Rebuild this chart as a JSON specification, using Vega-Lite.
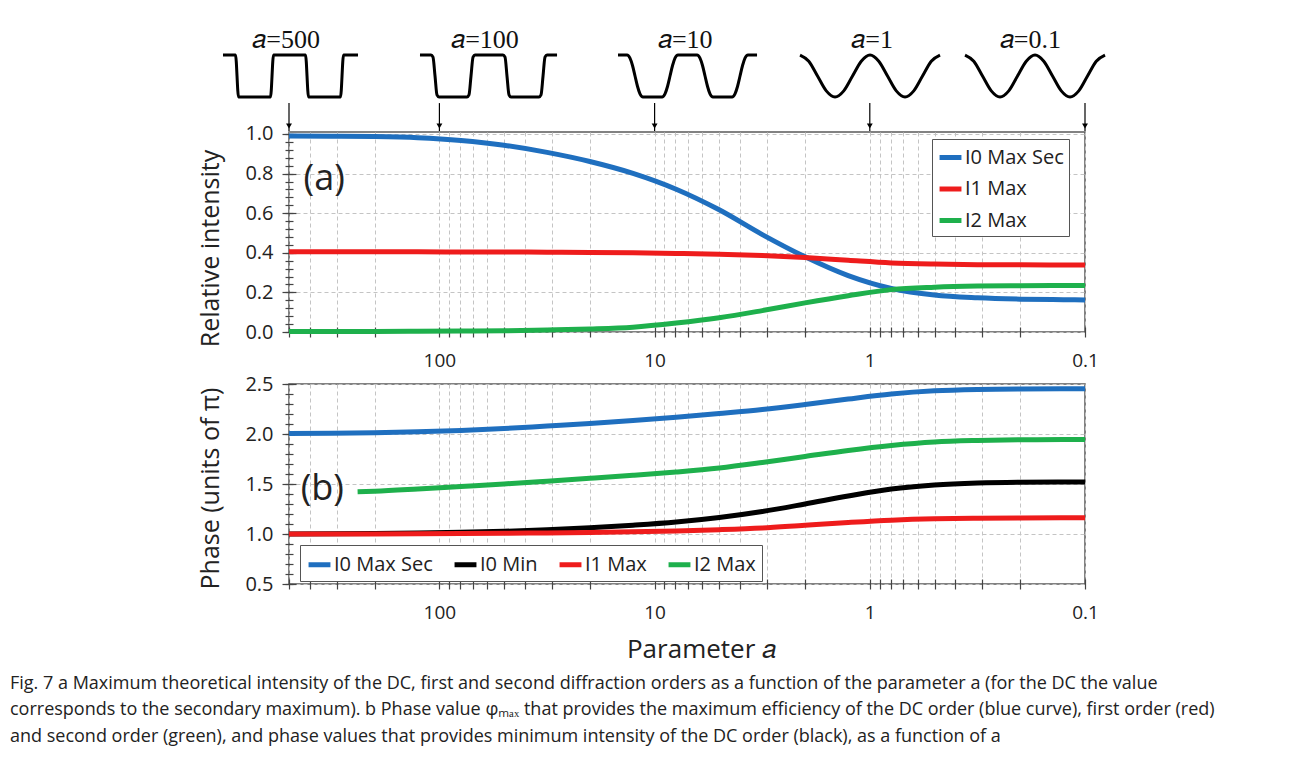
{
  "$schema": "https://vega.github.io/schema/vega-lite/v6.json",
  "background": "white",
  "padding": {"left": 10, "top": 0, "right": 0, "bottom": 12},
  "autosize": {"type": "pad"},
  "spacing": 52,
  "bounds": "flush",
  "title": {
    "text": [
      "Fig. 7 a Maximum theoretical intensity of the DC, first and second diffraction orders as a function of the parameter a (for the DC the value",
      "corresponds to the secondary maximum). b Phase value φₘₐₓ that provides the maximum efficiency of the DC order (blue curve), first order (red)",
      "and second order (green), and phase values that provides minimum intensity of the DC order (black), as a function of a"
    ],
    "orient": "bottom", "anchor": "start", "frame": "group", "align": "left", "dx": -279, "offset": 12,
    "font": "Open Sans", "fontSize": 18, "fontWeight": "normal", "lineHeight": 26.5, "color": "#222222"
  },
  "config": {
    "font": "Open Sans",
    "view": {"stroke": "#5a5a5a", "strokeWidth": 1.5},
    "axis": {
      "labelFont": "Open Sans", "labelFontSize": 19, "labelColor": "#222222",
      "titleFont": "Open Sans", "titleFontSize": 25, "titleFontWeight": "normal", "titleColor": "#222222",
      "tickColor": "#444444", "tickWidth": 1.2, "domain": false,
      "gridColor": "#c4c4c4", "gridDash": [4, 3], "gridWidth": 1
    }
  },
  "resolve": {"scale": {"x": "independent", "y": "independent", "color": "independent"}, "legend": {"color": "independent"}},
  "datasets": {
    "intensity": [
      {"a": 500, "s": "I0 Max Sec", "v": 0.99}, {"a": 316, "s": "I0 Max Sec", "v": 0.989}, {"a": 200, "s": "I0 Max Sec", "v": 0.987},
      {"a": 126, "s": "I0 Max Sec", "v": 0.981}, {"a": 79.4, "s": "I0 Max Sec", "v": 0.967}, {"a": 50.1, "s": "I0 Max Sec", "v": 0.943},
      {"a": 31.6, "s": "I0 Max Sec", "v": 0.907}, {"a": 20, "s": "I0 Max Sec", "v": 0.861}, {"a": 12.6, "s": "I0 Max Sec", "v": 0.801},
      {"a": 7.94, "s": "I0 Max Sec", "v": 0.721}, {"a": 5.01, "s": "I0 Max Sec", "v": 0.617}, {"a": 3.16, "s": "I0 Max Sec", "v": 0.492},
      {"a": 2, "s": "I0 Max Sec", "v": 0.38}, {"a": 1.26, "s": "I0 Max Sec", "v": 0.285}, {"a": 0.794, "s": "I0 Max Sec", "v": 0.22},
      {"a": 0.501, "s": "I0 Max Sec", "v": 0.187}, {"a": 0.316, "s": "I0 Max Sec", "v": 0.173}, {"a": 0.2, "s": "I0 Max Sec", "v": 0.166},
      {"a": 0.126, "s": "I0 Max Sec", "v": 0.163}, {"a": 0.1, "s": "I0 Max Sec", "v": 0.162},
      {"a": 500, "s": "I1 Max", "v": 0.405}, {"a": 316, "s": "I1 Max", "v": 0.405}, {"a": 200, "s": "I1 Max", "v": 0.405},
      {"a": 126, "s": "I1 Max", "v": 0.405}, {"a": 79.4, "s": "I1 Max", "v": 0.404}, {"a": 50.1, "s": "I1 Max", "v": 0.404},
      {"a": 31.6, "s": "I1 Max", "v": 0.403}, {"a": 20, "s": "I1 Max", "v": 0.402}, {"a": 12.6, "s": "I1 Max", "v": 0.4},
      {"a": 7.94, "s": "I1 Max", "v": 0.397}, {"a": 5.01, "s": "I1 Max", "v": 0.393}, {"a": 3.16, "s": "I1 Max", "v": 0.386},
      {"a": 2, "s": "I1 Max", "v": 0.376}, {"a": 1.26, "s": "I1 Max", "v": 0.362}, {"a": 0.794, "s": "I1 Max", "v": 0.349},
      {"a": 0.501, "s": "I1 Max", "v": 0.343}, {"a": 0.316, "s": "I1 Max", "v": 0.34}, {"a": 0.2, "s": "I1 Max", "v": 0.339},
      {"a": 0.126, "s": "I1 Max", "v": 0.338}, {"a": 0.1, "s": "I1 Max", "v": 0.338},
      {"a": 500, "s": "I2 Max", "v": 0.003}, {"a": 316, "s": "I2 Max", "v": 0.003}, {"a": 200, "s": "I2 Max", "v": 0.003},
      {"a": 126, "s": "I2 Max", "v": 0.004}, {"a": 79.4, "s": "I2 Max", "v": 0.005}, {"a": 50.1, "s": "I2 Max", "v": 0.006},
      {"a": 31.6, "s": "I2 Max", "v": 0.01}, {"a": 20, "s": "I2 Max", "v": 0.015}, {"a": 12.6, "s": "I2 Max", "v": 0.024},
      {"a": 7.94, "s": "I2 Max", "v": 0.045}, {"a": 5.01, "s": "I2 Max", "v": 0.072}, {"a": 3.16, "s": "I2 Max", "v": 0.108},
      {"a": 2, "s": "I2 Max", "v": 0.147}, {"a": 1.26, "s": "I2 Max", "v": 0.183}, {"a": 0.794, "s": "I2 Max", "v": 0.214},
      {"a": 0.501, "s": "I2 Max", "v": 0.226}, {"a": 0.316, "s": "I2 Max", "v": 0.232}, {"a": 0.2, "s": "I2 Max", "v": 0.234},
      {"a": 0.126, "s": "I2 Max", "v": 0.235}, {"a": 0.1, "s": "I2 Max", "v": 0.235}
    ],
    "phase": [
      {"a": 500, "s": "I0 Max Sec", "v": 2.005}, {"a": 316, "s": "I0 Max Sec", "v": 2.008}, {"a": 200, "s": "I0 Max Sec", "v": 2.013},
      {"a": 126, "s": "I0 Max Sec", "v": 2.022}, {"a": 79.4, "s": "I0 Max Sec", "v": 2.036}, {"a": 50.1, "s": "I0 Max Sec", "v": 2.055},
      {"a": 31.6, "s": "I0 Max Sec", "v": 2.08}, {"a": 20, "s": "I0 Max Sec", "v": 2.105}, {"a": 12.6, "s": "I0 Max Sec", "v": 2.135},
      {"a": 7.94, "s": "I0 Max Sec", "v": 2.168}, {"a": 5.01, "s": "I0 Max Sec", "v": 2.205}, {"a": 3.16, "s": "I0 Max Sec", "v": 2.245},
      {"a": 2, "s": "I0 Max Sec", "v": 2.295}, {"a": 1.26, "s": "I0 Max Sec", "v": 2.35}, {"a": 0.794, "s": "I0 Max Sec", "v": 2.4},
      {"a": 0.501, "s": "I0 Max Sec", "v": 2.432}, {"a": 0.316, "s": "I0 Max Sec", "v": 2.446}, {"a": 0.2, "s": "I0 Max Sec", "v": 2.451},
      {"a": 0.126, "s": "I0 Max Sec", "v": 2.452}, {"a": 0.1, "s": "I0 Max Sec", "v": 2.452},
      {"a": 500, "s": "I0 Min", "v": 1.0}, {"a": 316, "s": "I0 Min", "v": 1.002}, {"a": 200, "s": "I0 Min", "v": 1.005},
      {"a": 126, "s": "I0 Min", "v": 1.01}, {"a": 79.4, "s": "I0 Min", "v": 1.017}, {"a": 50.1, "s": "I0 Min", "v": 1.027},
      {"a": 31.6, "s": "I0 Min", "v": 1.042}, {"a": 20, "s": "I0 Min", "v": 1.062}, {"a": 12.6, "s": "I0 Min", "v": 1.088},
      {"a": 7.94, "s": "I0 Min", "v": 1.12}, {"a": 5.01, "s": "I0 Min", "v": 1.165}, {"a": 3.16, "s": "I0 Min", "v": 1.225},
      {"a": 2, "s": "I0 Min", "v": 1.3}, {"a": 1.26, "s": "I0 Min", "v": 1.38}, {"a": 0.794, "s": "I0 Min", "v": 1.45},
      {"a": 0.501, "s": "I0 Min", "v": 1.49}, {"a": 0.316, "s": "I0 Min", "v": 1.51}, {"a": 0.2, "s": "I0 Min", "v": 1.518},
      {"a": 0.126, "s": "I0 Min", "v": 1.52}, {"a": 0.1, "s": "I0 Min", "v": 1.52},
      {"a": 500, "s": "I1 Max", "v": 1.0}, {"a": 316, "s": "I1 Max", "v": 1.0}, {"a": 200, "s": "I1 Max", "v": 1.001},
      {"a": 126, "s": "I1 Max", "v": 1.002}, {"a": 79.4, "s": "I1 Max", "v": 1.004}, {"a": 50.1, "s": "I1 Max", "v": 1.007},
      {"a": 31.6, "s": "I1 Max", "v": 1.011}, {"a": 20, "s": "I1 Max", "v": 1.016}, {"a": 12.6, "s": "I1 Max", "v": 1.023},
      {"a": 7.94, "s": "I1 Max", "v": 1.031}, {"a": 5.01, "s": "I1 Max", "v": 1.043}, {"a": 3.16, "s": "I1 Max", "v": 1.06},
      {"a": 2, "s": "I1 Max", "v": 1.088}, {"a": 1.26, "s": "I1 Max", "v": 1.115}, {"a": 0.794, "s": "I1 Max", "v": 1.138},
      {"a": 0.501, "s": "I1 Max", "v": 1.152}, {"a": 0.316, "s": "I1 Max", "v": 1.158}, {"a": 0.2, "s": "I1 Max", "v": 1.161},
      {"a": 0.126, "s": "I1 Max", "v": 1.162}, {"a": 0.1, "s": "I1 Max", "v": 1.162},
      {"a": 240, "s": "I2 Max", "v": 1.423}, {"a": 200, "s": "I2 Max", "v": 1.428}, {"a": 126, "s": "I2 Max", "v": 1.45},
      {"a": 79.4, "s": "I2 Max", "v": 1.475}, {"a": 50.1, "s": "I2 Max", "v": 1.5}, {"a": 31.6, "s": "I2 Max", "v": 1.528},
      {"a": 20, "s": "I2 Max", "v": 1.557}, {"a": 12.6, "s": "I2 Max", "v": 1.587}, {"a": 7.94, "s": "I2 Max", "v": 1.62},
      {"a": 5.01, "s": "I2 Max", "v": 1.66}, {"a": 3.16, "s": "I2 Max", "v": 1.715}, {"a": 2, "s": "I2 Max", "v": 1.775},
      {"a": 1.26, "s": "I2 Max", "v": 1.835}, {"a": 0.794, "s": "I2 Max", "v": 1.885}, {"a": 0.501, "s": "I2 Max", "v": 1.92},
      {"a": 0.316, "s": "I2 Max", "v": 1.935}, {"a": 0.2, "s": "I2 Max", "v": 1.942}, {"a": 0.126, "s": "I2 Max", "v": 1.945},
      {"a": 0.1, "s": "I2 Max", "v": 1.945}
    ],
    "waves": [
      {"w": "500", "u": -0.943, "h": 1}, {"w": "500", "u": -0.764, "h": 1}, {"w": "500", "u": -0.721, "h": -1}, {"w": "500", "u": -0.264, "h": -1},
      {"w": "500", "u": -0.221, "h": 1}, {"w": "500", "u": 0.236, "h": 1}, {"w": "500", "u": 0.279, "h": -1}, {"w": "500", "u": 0.736, "h": -1},
      {"w": "500", "u": 0.779, "h": 1}, {"w": "500", "u": 0.986, "h": 1},
      {"w": "100", "u": 1.871, "h": 1}, {"w": "100", "u": 2.029, "h": 1}, {"w": "100", "u": 2.057, "h": 0.9}, {"w": "100", "u": 2.086, "h": 0},
      {"w": "100", "u": 2.114, "h": -0.9}, {"w": "100", "u": 2.143, "h": -1}, {"w": "100", "u": 2.543, "h": -1}, {"w": "100", "u": 2.571, "h": -0.9},
      {"w": "100", "u": 2.6, "h": 0}, {"w": "100", "u": 2.629, "h": 0.9}, {"w": "100", "u": 2.657, "h": 1}, {"w": "100", "u": 3.057, "h": 1},
      {"w": "100", "u": 3.086, "h": 0.9}, {"w": "100", "u": 3.114, "h": 0}, {"w": "100", "u": 3.143, "h": -0.9}, {"w": "100", "u": 3.171, "h": -1},
      {"w": "100", "u": 3.571, "h": -1}, {"w": "100", "u": 3.6, "h": -0.9}, {"w": "100", "u": 3.629, "h": 0}, {"w": "100", "u": 3.657, "h": 0.9},
      {"w": "100", "u": 3.686, "h": 1}, {"w": "100", "u": 3.829, "h": 1},
      {"w": "10", "u": 4.7, "h": 1}, {"w": "10", "u": 4.829, "h": 1}, {"w": "10", "u": 4.871, "h": 0.85}, {"w": "10", "u": 4.907, "h": 0.5},
      {"w": "10", "u": 4.943, "h": 0}, {"w": "10", "u": 4.979, "h": -0.5}, {"w": "10", "u": 5.014, "h": -0.85}, {"w": "10", "u": 5.057, "h": -1},
      {"w": "10", "u": 5.329, "h": -1}, {"w": "10", "u": 5.371, "h": -0.85}, {"w": "10", "u": 5.407, "h": -0.5}, {"w": "10", "u": 5.443, "h": 0},
      {"w": "10", "u": 5.479, "h": 0.5}, {"w": "10", "u": 5.514, "h": 0.85}, {"w": "10", "u": 5.557, "h": 1}, {"w": "10", "u": 5.829, "h": 1},
      {"w": "10", "u": 5.871, "h": 0.85}, {"w": "10", "u": 5.907, "h": 0.5}, {"w": "10", "u": 5.943, "h": 0}, {"w": "10", "u": 5.979, "h": -0.5},
      {"w": "10", "u": 6.014, "h": -0.85}, {"w": "10", "u": 6.057, "h": -1}, {"w": "10", "u": 6.329, "h": -1}, {"w": "10", "u": 6.371, "h": -0.85},
      {"w": "10", "u": 6.407, "h": -0.5}, {"w": "10", "u": 6.443, "h": 0}, {"w": "10", "u": 6.479, "h": 0.5}, {"w": "10", "u": 6.514, "h": 0.85},
      {"w": "10", "u": 6.557, "h": 1}, {"w": "10", "u": 6.686, "h": 1},
      {"w": "1", "u": 7.3, "h": 1}, {"w": "1", "u": 7.425, "h": 0.707}, {"w": "1", "u": 7.55, "h": 0}, {"w": "1", "u": 7.675, "h": -0.707},
      {"w": "1", "u": 7.8, "h": -1}, {"w": "1", "u": 7.925, "h": -0.707}, {"w": "1", "u": 8.05, "h": 0}, {"w": "1", "u": 8.175, "h": 0.707},
      {"w": "1", "u": 8.3, "h": 1}, {"w": "1", "u": 8.425, "h": 0.707}, {"w": "1", "u": 8.55, "h": 0}, {"w": "1", "u": 8.675, "h": -0.707},
      {"w": "1", "u": 8.8, "h": -1}, {"w": "1", "u": 8.925, "h": -0.707}, {"w": "1", "u": 9.05, "h": 0}, {"w": "1", "u": 9.175, "h": 0.707},
      {"w": "1", "u": 9.3, "h": 1},
      {"w": "0.1", "u": 9.657, "h": 1}, {"w": "0.1", "u": 9.782, "h": 0.707}, {"w": "0.1", "u": 9.907, "h": 0}, {"w": "0.1", "u": 10.032, "h": -0.707},
      {"w": "0.1", "u": 10.157, "h": -1}, {"w": "0.1", "u": 10.282, "h": -0.707}, {"w": "0.1", "u": 10.407, "h": 0}, {"w": "0.1", "u": 10.532, "h": 0.707},
      {"w": "0.1", "u": 10.657, "h": 1}, {"w": "0.1", "u": 10.782, "h": 0.707}, {"w": "0.1", "u": 10.907, "h": 0}, {"w": "0.1", "u": 11.032, "h": -0.707},
      {"w": "0.1", "u": 11.157, "h": -1}, {"w": "0.1", "u": 11.282, "h": -0.707}, {"w": "0.1", "u": 11.407, "h": 0}, {"w": "0.1", "u": 11.532, "h": 0.707},
      {"w": "0.1", "u": 11.657, "h": 1}
    ],
    "wavelabels": [
      {"label": "𝑎=500", "u": -0.04}, {"label": "𝑎=100", "u": 2.8}, {"label": "𝑎=10", "u": 5.66},
      {"label": "𝑎=1", "u": 8.33}, {"label": "𝑎=0.1", "u": 10.59}
    ],
    "arrows": [{"a": 500}, {"a": 100}, {"a": 10}, {"a": 1}, {"a": 0.1}],
    "tagA": [{"t": "(a)"}],
    "tagB": [{"t": "(b)"}]
  },
  "vconcat": [
    {
      "width": 796, "height": 80,
      "view": {"stroke": null},
      "layer": [
        {
          "data": {"name": "waves"},
          "mark": {"type": "line", "color": "black", "strokeWidth": 3, "interpolate": "monotone", "clip": false},
          "encoding": {
            "x": {"field": "u", "type": "quantitative", "scale": {"domain": [0, 11.371], "nice": false, "zero": false}, "axis": null},
            "y": {"field": "h", "type": "quantitative", "scale": {"domain": [-0.19, 3.62], "nice": false, "zero": false}, "axis": null},
            "detail": {"field": "w"}
          }
        },
        {
          "data": {"name": "wavelabels"},
          "mark": {"type": "text", "font": "Liberation Serif", "fontSize": 26, "color": "#111111", "baseline": "middle", "align": "center"},
          "encoding": {
            "x": {"field": "u", "type": "quantitative", "scale": {"domain": [0, 11.371], "nice": false, "zero": false}, "axis": null},
            "y": {"datum": 1.71, "type": "quantitative", "scale": {"domain": [-0.19, 3.62], "nice": false, "zero": false}, "axis": null},
            "text": {"field": "label"}
          }
        }
      ]
    },
    {
      "width": 796, "height": 200,
      "resolve": {"axis": {"y": "independent"}},
      "layer": [
        {
          "data": {"name": "intensity"},
          "mark": {"type": "line", "strokeWidth": 5, "interpolate": "monotone"},
          "encoding": {
            "x": {"field": "a", "type": "quantitative",
              "scale": {"type": "log", "domain": [500, 0.1], "nice": false},
              "axis": {"values": [500, 400, 300, 200, 100, 90, 80, 70, 60, 50, 40, 30, 20, 10, 9, 8, 7, 6, 5, 4, 3, 2, 1, 0.9, 0.8, 0.7, 0.6, 0.5, 0.4, 0.3, 0.2, 0.1],
                "labelExpr": "datum.value == 100 ? '100' : datum.value == 10 ? '10' : datum.value == 1 ? '1' : datum.value == 0.1 ? '0.1' : ''",
                "labelOverlap": false, "labelFlush": false, "grid": true, "tickSize": 10, "offset": -5, "labelPadding": 14, "title": null}},
            "y": {"field": "v", "type": "quantitative", "scale": {"domain": [0, 1.01], "nice": false},
              "axis": {"values": [0, 0.2, 0.4, 0.6, 0.8, 1.0], "format": ".1f", "grid": true, "tickSize": 14, "offset": -7, "labelPadding": 9, "labelFontSize": 20,
                "title": "Relative intensity", "titlePadding": 21, "titleY": 116, "orient": "left"}},
            "color": {"field": "s", "type": "nominal",
              "scale": {"domain": ["I0 Max Sec", "I1 Max", "I2 Max"], "range": ["#1f6fbf", "#ee1c1c", "#1eb04c"]},
              "legend": {"orient": "none", "legendX": 643, "legendY": 7, "title": null, "symbolType": "stroke", "symbolSize": 480, "symbolStrokeWidth": 5,
                "labelFontSize": 20, "labelFont": "Open Sans", "labelColor": "#222222", "padding": 5, "strokeColor": "#555555", "fillColor": "white", "rowPadding": 7.5, "labelOffset": 1}}
          }
        },
        {
          "data": {"name": "arrows"},
          "mark": {"type": "rule", "color": "black", "strokeWidth": 1.2, "clip": false},
          "encoding": {
            "x": {"field": "a", "type": "quantitative", "scale": {"type": "log", "domain": [500, 0.1], "nice": false}},
            "y": {"datum": 1.156, "type": "quantitative", "scale": {"domain": [0, 1.01], "nice": false},
              "axis": {"values": [0, 0.04, 0.08, 0.12, 0.16, 0.2, 0.24, 0.28, 0.32, 0.36, 0.4, 0.44, 0.48, 0.52, 0.56, 0.6, 0.64, 0.68, 0.72, 0.76, 0.8, 0.84, 0.88, 0.92, 0.96, 1.0],
                "labels": false, "grid": false, "tickSize": 8, "offset": -4, "title": null, "orient": "left"}},
            "y2": {"datum": 1.015}
          }
        },
        {
          "data": {"name": "arrows"},
          "mark": {"type": "point", "shape": "triangle-down", "filled": true, "color": "black", "size": 35, "opacity": 1, "clip": false},
          "encoding": {
            "x": {"field": "a", "type": "quantitative", "scale": {"type": "log", "domain": [500, 0.1], "nice": false}},
            "y": {"datum": 1.04, "type": "quantitative", "scale": {"domain": [0, 1.01], "nice": false}, "axis": null}
          }
        },
        {
          "data": {"name": "tagA"},
          "mark": {"type": "text", "font": "Open Sans", "fontSize": 36, "color": "#222222", "align": "center", "baseline": "middle"},
          "encoding": {
            "x": {"datum": 343, "type": "quantitative", "scale": {"type": "log", "domain": [500, 0.1], "nice": false}},
            "y": {"datum": 0.773, "type": "quantitative", "scale": {"domain": [0, 1.01], "nice": false}, "axis": null},
            "text": {"field": "t"}
          }
        }
      ]
    },
    {
      "width": 796, "height": 200,
      "resolve": {"axis": {"y": "independent"}},
      "layer": [
        {
          "data": {"name": "phase"},
          "mark": {"type": "line", "strokeWidth": 5, "interpolate": "monotone"},
          "encoding": {
            "x": {"field": "a", "type": "quantitative",
              "scale": {"type": "log", "domain": [500, 0.1], "nice": false},
              "axis": {"values": [500, 400, 300, 200, 100, 90, 80, 70, 60, 50, 40, 30, 20, 10, 9, 8, 7, 6, 5, 4, 3, 2, 1, 0.9, 0.8, 0.7, 0.6, 0.5, 0.4, 0.3, 0.2, 0.1],
                "labelExpr": "datum.value == 100 ? '100' : datum.value == 10 ? '10' : datum.value == 1 ? '1' : datum.value == 0.1 ? '0.1' : ''",
                "labelOverlap": false, "labelFlush": false, "grid": true, "tickSize": 10, "offset": -5, "labelPadding": 14,
                "title": "Parameter 𝑎", "titleFontSize": 26, "titlePadding": 14, "titleX": 412}},
            "y": {"field": "v", "type": "quantitative", "scale": {"domain": [0.5, 2.5], "nice": false, "zero": false},
              "axis": {"values": [0.5, 1.0, 1.5, 2.0, 2.5], "format": ".1f", "grid": true, "tickSize": 14, "offset": -7, "labelPadding": 9, "labelFontSize": 20,
                "title": "Phase (units of π)", "titlePadding": 21, "titleY": 104, "orient": "left"}},
            "color": {"field": "s", "type": "nominal",
              "scale": {"domain": ["I0 Max Sec", "I0 Min", "I1 Max", "I2 Max"], "range": ["#1f6fbf", "#000000", "#ee1c1c", "#1eb04c"]},
              "legend": {"orient": "none", "legendX": 11, "legendY": 161, "direction": "horizontal", "title": null, "symbolType": "stroke", "symbolSize": 480, "symbolStrokeWidth": 5,
                "labelFontSize": 20, "labelFont": "Open Sans", "labelColor": "#222222", "padding": 6, "strokeColor": "#555555", "fillColor": "white", "columnPadding": 11, "labelOffset": 1}}
          }
        },
        {
          "data": {"name": "arrows"},
          "mark": {"type": "point", "opacity": 0},
          "encoding": {
            "x": {"field": "a", "type": "quantitative", "scale": {"type": "log", "domain": [500, 0.1], "nice": false}},
            "y": {"datum": 1.0, "type": "quantitative", "scale": {"domain": [0.5, 2.5], "nice": false, "zero": false},
              "axis": {"values": [0.5, 0.6, 0.7, 0.8, 0.9, 1.0, 1.1, 1.2, 1.3, 1.4, 1.5, 1.6, 1.7, 1.8, 1.9, 2.0, 2.1, 2.2, 2.3, 2.4, 2.5],
                "labels": false, "grid": false, "tickSize": 8, "offset": -4, "title": null, "orient": "left"}}
          }
        },
        {
          "data": {"name": "tagB"},
          "mark": {"type": "text", "font": "Open Sans", "fontSize": 36, "color": "#222222", "align": "center", "baseline": "middle"},
          "encoding": {
            "x": {"datum": 350, "type": "quantitative", "scale": {"type": "log", "domain": [500, 0.1], "nice": false}},
            "y": {"datum": 1.45, "type": "quantitative", "scale": {"domain": [0.5, 2.5], "nice": false, "zero": false}, "axis": null},
            "text": {"field": "t"}
          }
        }
      ]
    }
  ]
}
